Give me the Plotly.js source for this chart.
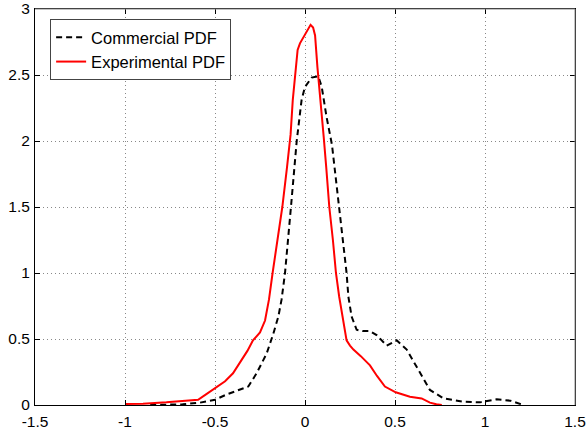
<!DOCTYPE html>
<html>
<head>
<meta charset="utf-8">
<script src="https://cdn.plot.ly/plotly-3.0.1.min.js"></script>
<style>html,body{margin:0;padding:0;background:#fff;}#chart{width:587px;height:429px;}</style>
</head>
<body>
<div id="chart"></div>
<script>
const commercialX = [-0.86, -0.75, -0.68, -0.583, -0.5, -0.435, -0.361, -0.315, -0.269, -0.213, -0.176, -0.148, -0.13, -0.111, -0.078, -0.046, -0.019, 0.0, 0.037, 0.074, 0.093, 0.12, 0.15, 0.191, 0.231, 0.241, 0.259, 0.287, 0.32, 0.361, 0.398, 0.454, 0.509, 0.565, 0.63, 0.694, 0.77, 0.88, 0.972, 1.065, 1.14, 1.213];
const commercialY = [0.0, 0.002, 0.005, 0.018, 0.04, 0.08, 0.114, 0.14, 0.24, 0.39, 0.54, 0.67, 0.80, 1.0, 1.5, 2.0, 2.31, 2.41, 2.48, 2.49, 2.41, 2.18, 1.97, 1.5, 1.0, 0.82, 0.67, 0.57, 0.56, 0.56, 0.53, 0.45, 0.49, 0.42, 0.27, 0.114, 0.05, 0.025, 0.02, 0.043, 0.033, 0.0];

const experimentalX = [-1.0, -0.9, -0.77, -0.68, -0.594, -0.55, -0.5, -0.444, -0.40, -0.361, -0.32, -0.289, -0.25, -0.222, -0.20, -0.18, -0.153, -0.126, -0.10, -0.08, -0.068, -0.055, -0.041, -0.028, -0.01, 0.015, 0.031, 0.045, 0.056, 0.069, 0.087, 0.104, 0.118, 0.135, 0.155, 0.172, 0.19, 0.204, 0.22, 0.231, 0.25, 0.269, 0.31, 0.361, 0.40, 0.444, 0.504, 0.583, 0.648, 0.694, 0.73, 0.76];
const experimentalY = [0.008, 0.01, 0.02, 0.03, 0.04, 0.08, 0.13, 0.18, 0.24, 0.32, 0.41, 0.49, 0.55, 0.64, 0.80, 1.0, 1.25, 1.5, 1.8, 2.05, 2.31, 2.5, 2.69, 2.74, 2.78, 2.84, 2.88, 2.86, 2.80, 2.56, 2.31, 2.03, 1.8, 1.5, 1.25, 1.0, 0.82, 0.70, 0.58, 0.49, 0.45, 0.42, 0.37, 0.30, 0.22, 0.14, 0.096, 0.063, 0.05, 0.018, 0.005, 0.0];

const xTicks = [-1.5, -1, -0.5, 0, 0.5, 1, 1.5];
const xTickLabels = ['-1.5', '-1', '-0.5', '0', '0.5', '1', '1.5'];
const yTicks = [0, 0.5, 1, 1.5, 2, 2.5, 3];
const yTickLabels = ['0', '0.5', '1', '1.5', '2', '2.5', '3'];

const traces = [
  {x: commercialX, y: commercialY, type: 'scatter', mode: 'lines', name: 'Commercial PDF',
   line: {color: '#000000', width: 2, dash: '6px,4px'}},
  {x: experimentalX, y: experimentalY, type: 'scatter', mode: 'lines', name: 'Experimental PDF',
   line: {color: '#ff0000', width: 2}}
];

const fontFam = 'Liberation Sans, Arial, sans-serif';
const axisCommon = {
  showline: true, linecolor: '#000', linewidth: 1, mirror: 'ticks',
  ticks: 'inside', ticklen: 5, tickcolor: '#000', tickwidth: 1,
  showgrid: true, gridcolor: '#888', griddash: '1px,3px', gridwidth: 1,
  zeroline: false, tickfont: {family: fontFam, size: 15.5, color: '#000'}
};

const layout = {
  width: 587, height: 429,
  margin: {l: 35, r: 12, t: 9, b: 24},
  paper_bgcolor: '#fff', plot_bgcolor: '#fff',
  showlegend: true,
  legend: {x: 0.028, y: 0.975, xanchor: 'left', yanchor: 'top',
    bgcolor: '#fff', bordercolor: '#444', borderwidth: 1,
    font: {family: fontFam, size: 16.5, color: '#000'},
    tracegroupgap: 0},
  xaxis: Object.assign({}, axisCommon, {range: [-1.5, 1.5], tickvals: xTicks, ticktext: xTickLabels, ticklabelstandoff: 2}),
  yaxis: Object.assign({}, axisCommon, {range: [0, 3], tickvals: yTicks, ticktext: yTickLabels, ticklabelstandoff: 1}),
  shapes: [
    {type: 'line', xref: 'paper', yref: 'paper', x0: 0, x1: 1, y0: 1, y1: 1, line: {color: '#888', width: 1}, layer: 'above'},
    {type: 'line', xref: 'paper', yref: 'paper', x0: 1, x1: 1, y0: 0, y1: 1, line: {color: '#888', width: 1}, layer: 'above'}
  ]
};

Plotly.newPlot('chart', traces, layout, {displayModeBar: false, staticPlot: true});
</script>
</body>
</html>
